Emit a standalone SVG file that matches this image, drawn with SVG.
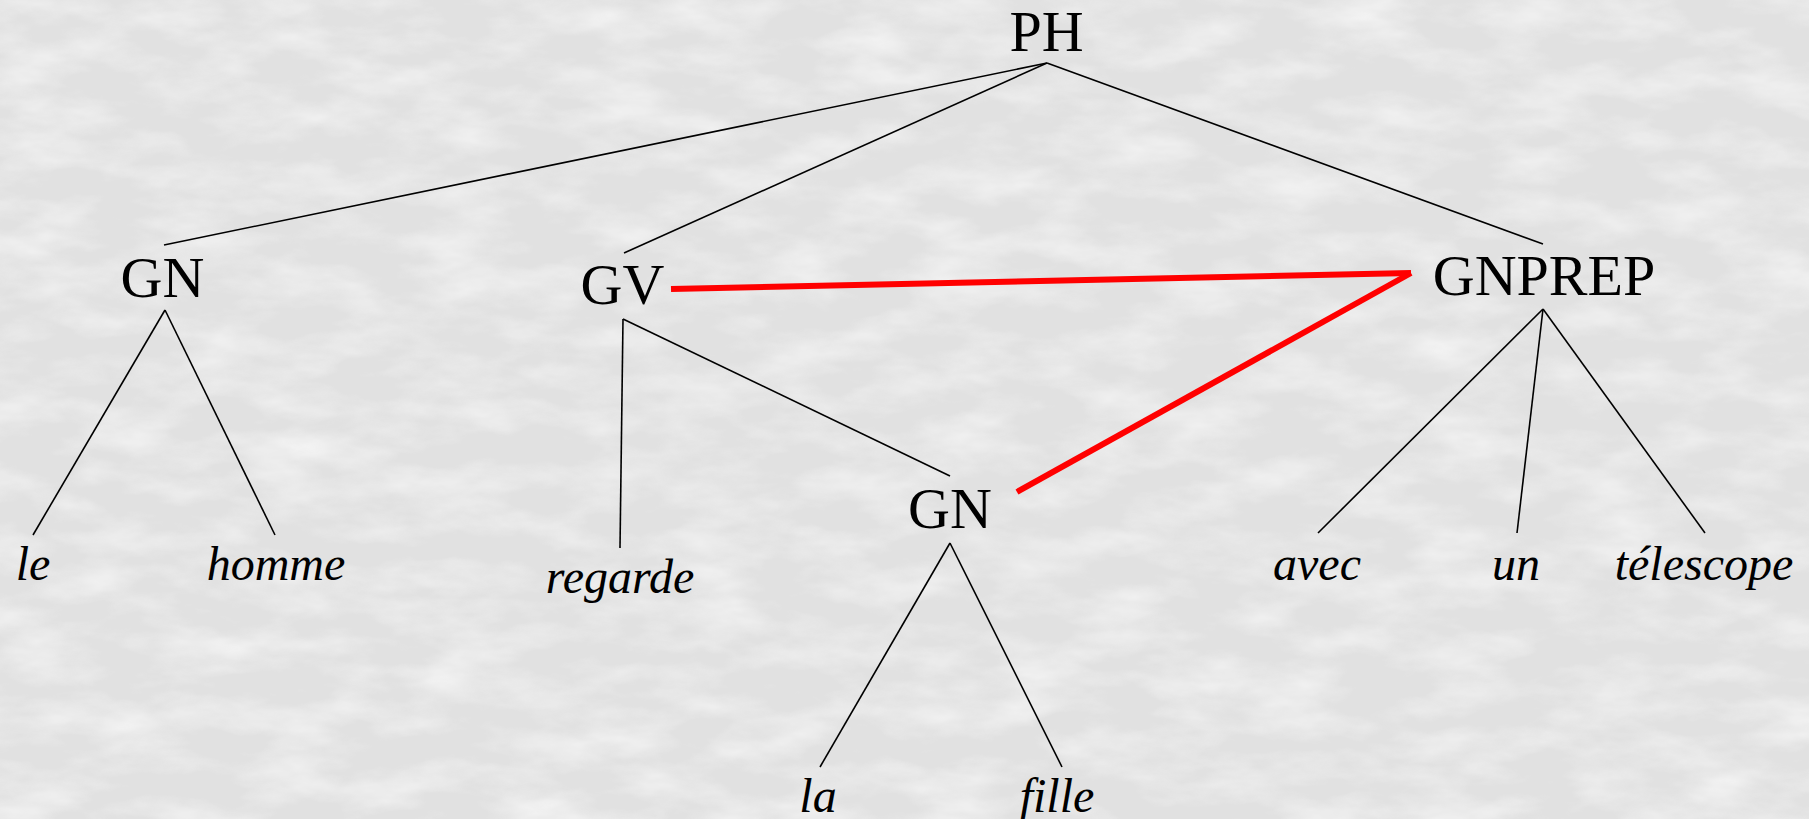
<svg xmlns="http://www.w3.org/2000/svg" width="1809" height="819" viewBox="0 0 1809 819">
<style>
.lbl{font-family:"Liberation Serif","Times New Roman",serif;font-size:58px;fill:#000;text-anchor:middle}
.wd{font-family:"Liberation Serif","Times New Roman",serif;font-size:48px;font-style:italic;fill:#000;text-anchor:middle}
.edge{stroke:#000;stroke-width:1.6;fill:none}
.hl{stroke:#ff0000;stroke-width:6;fill:none}
</style>
<defs>
<filter id="marble" x="0" y="0" width="100%" height="100%">
<feTurbulence type="fractalNoise" baseFrequency="0.012 0.03" numOctaves="4" seed="7" result="n"/>
<feColorMatrix type="matrix" values="0 0 0 0 1  0 0 0 0 1  0 0 0 0 1  1.4 0 0 0 -0.55" />
</filter>
</defs>
<rect width="1809" height="819" fill="#e1e1e1"/>
<rect width="1809" height="819" filter="url(#marble)" opacity="0.8"/>
<g id="connectors">
<line class="edge" x1="1047" y1="63" x2="164" y2="245"/>
<line class="edge" x1="1047" y1="63" x2="624" y2="253"/>
<line class="edge" x1="1047" y1="63" x2="1543" y2="244"/>
<line class="edge" x1="165" y1="310" x2="33" y2="535"/>
<line class="edge" x1="165" y1="310" x2="275" y2="535"/>
<line class="edge" x1="623" y1="319" x2="620" y2="548"/>
<line class="edge" x1="623" y1="319" x2="950" y2="476"/>
<line class="edge" x1="950" y1="543" x2="820" y2="767"/>
<line class="edge" x1="950" y1="543" x2="1062" y2="767"/>
<line class="edge" x1="1543" y1="309" x2="1318" y2="533"/>
<line class="edge" x1="1543" y1="309" x2="1517" y2="533"/>
<line class="edge" x1="1543" y1="309" x2="1705" y2="533"/>
<line class="hl" x1="671" y1="289" x2="1411" y2="273"/>
<line class="hl" x1="1411" y1="273" x2="1017" y2="492"/>
</g>
<g id="n-ph"><text class="lbl" x="1046.5" y="51">PH</text></g>
<g id="n-gn1"><text class="lbl" x="162.5" y="297">GN</text></g>
<g id="n-gv"><text class="lbl" x="622.5" y="304">GV</text></g>
<g id="n-gnprep"><text class="lbl" x="1544" y="295">GNPREP</text></g>
<g id="n-gn2"><text class="lbl" x="950" y="528">GN</text></g>
<g id="w-le"><text class="wd" x="33" y="580">le</text></g>
<g id="w-homme"><text class="wd" x="276" y="580">homme</text></g>
<g id="w-regarde"><text class="wd" x="620" y="593">regarde</text></g>
<g id="w-la"><text class="wd" x="818" y="812">la</text></g>
<g id="w-fille"><text class="wd" x="1057" y="812">fille</text></g>
<g id="w-avec"><text class="wd" x="1317" y="580">avec</text></g>
<g id="w-un"><text class="wd" x="1516" y="580">un</text></g>
<g id="w-telescope"><text class="wd" x="1704" y="580">télescope</text></g>
</svg>
